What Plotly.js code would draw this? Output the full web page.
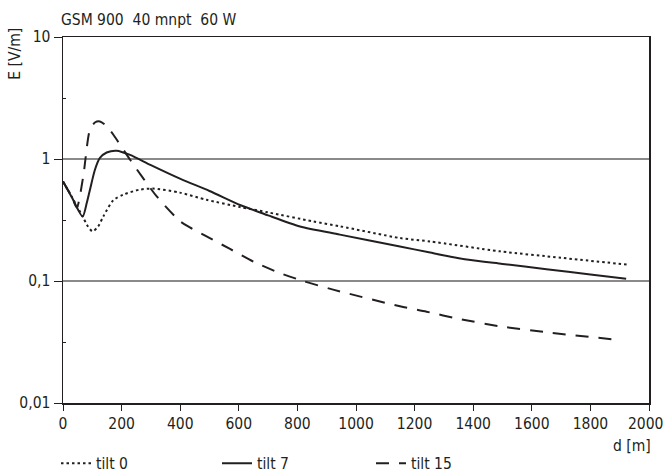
<!DOCTYPE html>
<html>
<head>
<meta charset="utf-8">
<script src="https://cdn.plot.ly/plotly-3.0.1.min.js"></script>
<style>
html,body{margin:0;padding:0;background:#fff;}
#chart{width:665px;height:476px;}
</style>
</head>
<body>
<div id="chart"></div>
<script>
// distance d [m] and field strength E [V/m]
const tilt0X = [0, 30, 67, 85, 101, 120, 138, 172, 206, 260, 308, 399, 490, 604, 700, 854, 945, 1150, 1253, 1492, 1700, 1930];
const tilt0Y = [0.655, 0.49, 0.338, 0.28, 0.255, 0.28, 0.34, 0.46, 0.51, 0.56, 0.572, 0.53, 0.463, 0.404, 0.365, 0.308, 0.281, 0.225, 0.211, 0.175, 0.155, 0.136];

const tilt7X = [0, 30, 67, 81, 92, 109, 126, 149, 183, 229, 300, 399, 433, 500, 604, 638, 700, 809, 945, 1150, 1253, 1378, 1500, 1650, 1800, 1922];
const tilt7Y = [0.655, 0.486, 0.338, 0.435, 0.56, 0.817, 1.02, 1.13, 1.17, 1.08, 0.89, 0.69, 0.638, 0.547, 0.42, 0.392, 0.345, 0.28, 0.24, 0.192, 0.171, 0.150, 0.138, 0.125, 0.113, 0.1045];

const tilt15X = [0, 30, 47, 69, 92, 110, 126, 150, 172, 229, 320, 399, 433, 490, 570, 650, 741, 820, 922, 1150, 1241, 1350, 1492, 1650, 1890];
const tilt15Y = [0.655, 0.49, 0.40, 0.72, 1.74, 2.0, 2.03, 1.85, 1.58, 0.986, 0.493, 0.31, 0.275, 0.232, 0.183, 0.144, 0.116, 0.1, 0.085, 0.062, 0.056, 0.049, 0.0425, 0.038, 0.033];

const seriesNames = ['tilt 0', 'tilt 7', 'tilt 15'];
const xTicks = [0, 200, 400, 600, 800, 1000, 1200, 1400, 1600, 1800, 2000];
const xTickText = ['0', '200', '400', '600', '800', '1000', '1200', '1400', '1600', '1800', '2000'];
const yTickVals = [0.01, 0.1, 1, 10];
const yTickText = ['0,01', '0,1', '1', '10'];
const yMinorVals = [0.0316, 0.316, 3.16];
const chartTitle = 'GSM 900  40 mnpt  60 W';
const yLabel = 'E [V/m]';
const xLabel = 'd [m]';

const FONT = "'DejaVu Sans Condensed', 'Liberation Sans Narrow', sans-serif";
const FS = 15.5;
const INK = '#231f20';

const traces = [
  {x: tilt0X, y: tilt0Y, name: seriesNames[0], mode: 'lines', legend: 'legend',
   line: {color: INK, width: 2, dash: '2.5px,3px', shape: 'spline', smoothing: 0.7}},
  {x: tilt7X, y: tilt7Y, name: seriesNames[1], mode: 'lines', legend: 'legend2',
   line: {color: INK, width: 2, shape: 'spline', smoothing: 0.7}},
  {x: tilt15X, y: tilt15Y, name: seriesNames[2], mode: 'lines', legend: 'legend3',
   line: {color: INK, width: 2, dash: '13px,10px', shape: 'spline', smoothing: 0.7}}
];

const PW = 586, PH = 366, PL = 63, PB = 403.3;
function legendAt(px, py) {
  return {orientation: 'h', x: (px - PL) / PW, xanchor: 'left', y: (PB - py) / PH, yanchor: 'middle',
          font: {family: FONT, size: FS, color: INK}, bgcolor: 'rgba(0,0,0,0)', borderwidth: 0};
}

// last x tick label is placed as an annotation so it stays inside the page edge
const lastIdx = xTickText.length - 1;
const axisTickText = xTickText.map((t, i) => i === lastIdx ? '' : t);

const layout = {
  width: 665, height: 476,
  margin: {l: 63, r: 16, t: 37, b: 73, autoexpand: false},
  paper_bgcolor: '#fff', plot_bgcolor: '#fff',
  font: {family: FONT, size: FS, color: INK},
  showlegend: true,
  legend: legendAt(56, 464),
  legend2: legendAt(217, 464),
  legend3: legendAt(371, 464),
  xaxis: {
    type: 'linear', range: [0, 2000], tickmode: 'array', tickvals: xTicks, ticktext: axisTickText,
    ticks: 'outside', ticklen: 6, tickcolor: INK, tickwidth: 1,
    showline: true, linecolor: INK, linewidth: 1.5, mirror: true,
    showgrid: false, zeroline: false,
    tickfont: {family: FONT, size: FS, color: INK}
  },
  yaxis: {
    type: 'log', range: [-2, 1], tickmode: 'array', tickvals: yTickVals, ticktext: yTickText,
    ticks: 'outside', ticklen: 8, tickcolor: INK, tickwidth: 1,
    showline: true, linecolor: INK, linewidth: 1.5, mirror: true,
    showgrid: true, gridcolor: '#8a8a8a', gridwidth: 2, zeroline: false,
    tickfont: {family: FONT, size: FS, color: INK},
    minor: {tickmode: 'array', tickvals: yMinorVals, ticks: 'inside', ticklen: 3, tickcolor: INK, showgrid: false}
  },
  annotations: [
    {text: chartTitle, xref: 'paper', yref: 'paper', x: -0.006, y: 1.047, xanchor: 'left', yanchor: 'middle',
     showarrow: false, font: {family: FONT, size: FS, color: INK}},
    {text: yLabel, xref: 'paper', yref: 'paper', x: -0.082, y: 0.954, xanchor: 'center', yanchor: 'middle',
     textangle: -90, showarrow: false, font: {family: FONT, size: FS, color: INK}},
    {text: xLabel, xref: 'paper', yref: 'paper', x: 0.971, y: -0.117, xanchor: 'center', yanchor: 'middle',
     showarrow: false, font: {family: FONT, size: FS, color: INK}},
    {text: xTickText[lastIdx], xref: 'x', yref: 'paper', x: xTicks[lastIdx], xshift: -4,
     y: -0.057, xanchor: 'center', yanchor: 'middle',
     showarrow: false, font: {family: FONT, size: FS, color: INK}}
  ]
};

Plotly.newPlot('chart', traces, layout, {displayModeBar: false, staticPlot: true});
</script>
</body>
</html>
